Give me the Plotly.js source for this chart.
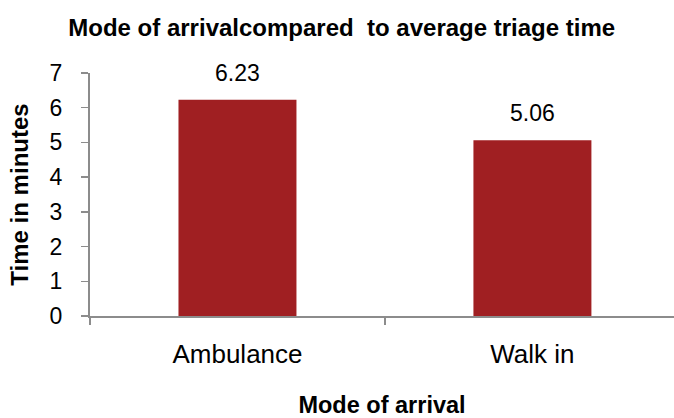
<!DOCTYPE html>
<html>
<head>
<meta charset="utf-8">
<script src="https://cdn.plot.ly/plotly-3.0.1.min.js"></script>
<style>html,body{margin:0;padding:0;background:#fff;}#chart{width:674px;height:418px;}</style>
</head>
<body>
<div id="chart"></div>
<script>
const categories = ["Ambulance", "Walk in"];
const triageMinutes = [6.23, 5.06];
const valueLabels = ["6.23", "5.06"];
const yTicks = [0, 1, 2, 3, 4, 5, 6, 7];

const FONT = "Liberation Sans, Arial, sans-serif";
const axisColor = "#8c8c8c";

const trace = {
  type: "bar",
  x: categories,
  y: triageMinutes,
  marker: {color: "#A01F22", line: {width: 0}},
  hoverinfo: "none"
};

const annotations = categories.map((c, i) => ({
  x: c, y: triageMinutes[i], xref: "x", yref: "y",
  text: valueLabels[i], showarrow: false,
  yanchor: "bottom", yshift: 12,
  font: {family: FONT, size: 23, color: "#000"}
}));

const layout = {
  width: 674, height: 418,
  paper_bgcolor: "#fff", plot_bgcolor: "#fff",
  margin: {l: 90, r: 0, t: 73, b: 102},
  showlegend: false,
  bargap: 0.6,
  title: {
    text: "<b>Mode of arrivalcompared&nbsp; to average triage time</b>",
    font: {family: FONT, size: 24, color: "#000"},
    xref: "container", x: 0.507, xanchor: "center",
    yref: "container", y: 0.935, yanchor: "middle"
  },
  xaxis: {
    type: "category",
    range: [-0.5, 1.48],
    showline: true, linecolor: axisColor, linewidth: 2,
    ticks: "outside", tickson: "boundaries", ticklen: 7, tickcolor: axisColor, tickwidth: 1.5,
    ticklabelstandoff: 14,
    tickfont: {family: FONT, size: 26, color: "#000"},
    showgrid: false, zeroline: false,
    title: {text: "<b>Mode of arrival</b>", font: {family: FONT, size: 23.5, color: "#000"}, standoff: 28}
  },
  yaxis: {
    range: [0, 7],
    tickvals: yTicks,
    showline: true, linecolor: axisColor, linewidth: 2,
    ticks: "outside", ticklen: 7, tickcolor: axisColor, tickwidth: 1.5,
    ticklabelstandoff: 14,
    tickfont: {family: FONT, size: 23, color: "#000"},
    showgrid: false, zeroline: false,
    title: {text: "<b>Time in minutes</b>", font: {family: FONT, size: 24, color: "#000"}, standoff: 14}
  },
  annotations: annotations
};

Plotly.newPlot("chart", [trace], layout, {displayModeBar: false, staticPlot: true});
</script>
</body>
</html>
